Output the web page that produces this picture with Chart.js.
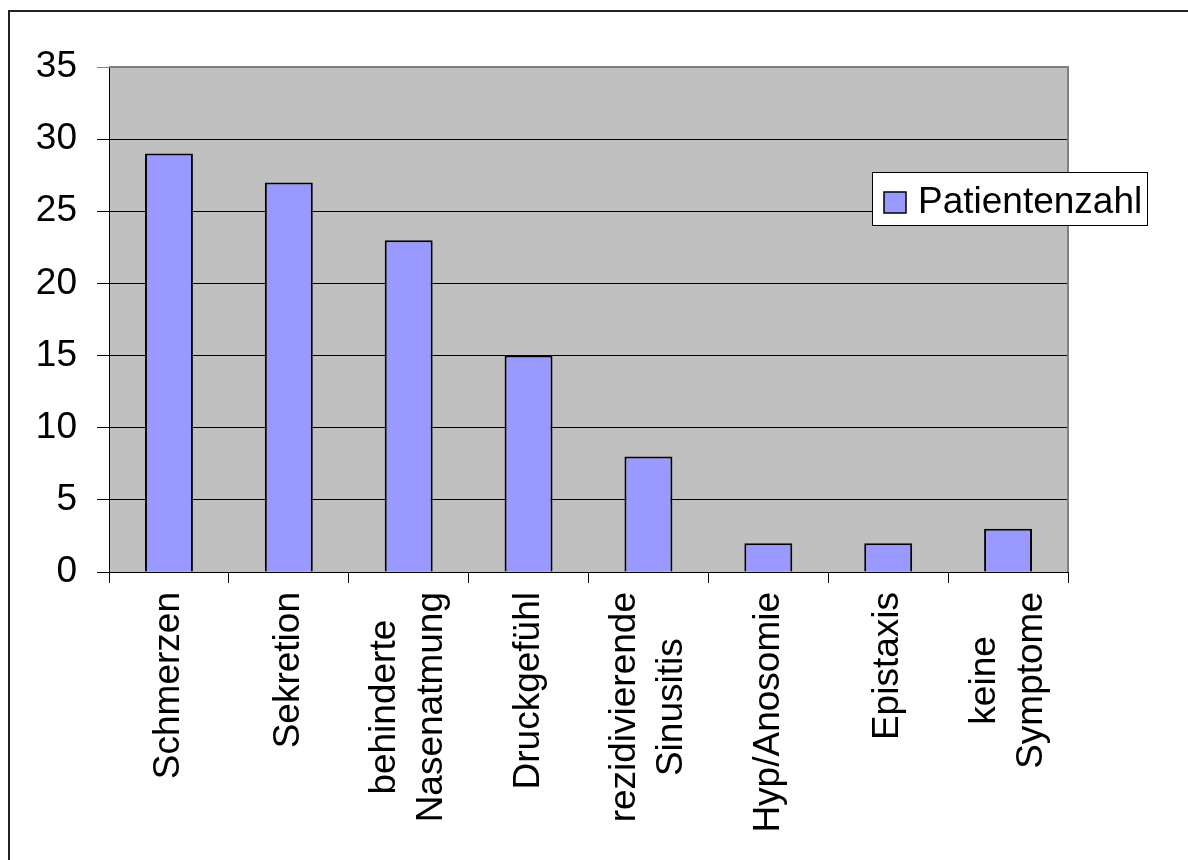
<!DOCTYPE html>
<html>
<head>
<meta charset="utf-8">
<title>Patientenzahl</title>
<script src="https://cdn.jsdelivr.net/npm/chart.js@4/dist/chart.umd.min.js"></script>
<style>
  html, body { margin: 0; padding: 0; background: #fff; }
  #wrap { width: 1188px; height: 860px; position: relative; }
</style>
</head>
<body>
<div id="wrap"><canvas id="symptom-chart" width="1188" height="860"></canvas></div>
<script>
// Symptom categories (multi-line labels) and patient counts
const categories = [
  ['Schmerzen'],
  ['Sekretion'],
  ['behinderte', 'Nasenatmung'],
  ['Druckgefühl'],
  ['rezidivierende', 'Sinusitis'],
  ['Hyp/Anosomie'],
  ['Epistaxis'],
  ['keine', 'Symptome']
];
const patientCounts = [29, 27, 23, 15, 8, 2, 2, 3];
const seriesLabel = 'Patientenzahl';
const yMin = 0;
const yMax = 35;
const yStep = 5;

const FONT = '"Liberation Sans", Arial, sans-serif';
const FONT_SIZE = 37;
const BAR_COLOR = '#9999FF';
const PLOT_BG = '#C0C0C0';

// Background, outer frame and gray plot area
const backgroundPlugin = {
  id: 'backgroundPlugin',
  beforeDraw(chart) {
    const ctx = chart.ctx;
    const area = chart.chartArea;
    ctx.save();
    ctx.fillStyle = '#fff';
    ctx.fillRect(0, 0, chart.width, chart.height);
    ctx.fillStyle = PLOT_BG;
    ctx.fillRect(area.left, area.top, area.right - area.left, area.bottom - area.top);
    // frame only shows its top and left edges
    ctx.strokeStyle = '#222';
    ctx.lineWidth = 2;
    ctx.beginPath();
    ctx.moveTo(9, chart.height);
    ctx.lineTo(9, 11);
    ctx.lineTo(chart.width, 11);
    ctx.stroke();
    ctx.restore();
  },
  afterDraw(chart) {
    const ctx = chart.ctx;
    const area = chart.chartArea;
    ctx.save();
    ctx.strokeStyle = '#808080';
    ctx.lineWidth = 2;
    ctx.beginPath();
    ctx.moveTo(area.left, area.top);
    ctx.lineTo(area.right, area.top);
    ctx.lineTo(area.right, area.bottom);
    ctx.stroke();
    ctx.restore();
  }
};

// Rotated category labels, lines centred on each other and on the category
const categoryLabelPlugin = {
  id: 'categoryLabelPlugin',
  afterDraw(chart) {
    const ctx = chart.ctx;
    const xScale = chart.scales.x;
    const lineHeight = FONT_SIZE * 1.27;
    const top = xScale.top + 20;
    ctx.save();
    ctx.font = FONT_SIZE + 'px ' + FONT;
    ctx.fillStyle = '#000';
    ctx.textAlign = 'center';
    ctx.textBaseline = 'middle';
    categories.forEach((lines, i) => {
      const cx = xScale.getPixelForValue(i);
      const maxW = Math.max(...lines.map(l => ctx.measureText(l).width));
      lines.forEach((line, j) => {
        ctx.save();
        ctx.translate(cx + (j - (lines.length - 1) / 2) * lineHeight, top);
        ctx.rotate(-Math.PI / 2);
        ctx.fillText(line, -maxW / 2, 0);
        ctx.restore();
      });
    });
    ctx.restore();
  }
};

// Boxed legend sitting over the right part of the plot
const legendBoxPlugin = {
  id: 'legendBoxPlugin',
  afterDraw(chart) {
    const ctx = chart.ctx;
    const ds = chart.data.datasets[0];
    ctx.save();
    ctx.fillStyle = '#fff';
    ctx.fillRect(872, 172, 275, 53);
    ctx.strokeStyle = '#000';
    ctx.lineWidth = 1;
    ctx.strokeRect(872.5, 172.5, 275, 53);
    ctx.fillStyle = ds.backgroundColor;
    ctx.fillRect(884, 192, 22, 21);
    ctx.lineWidth = 1.5;
    ctx.strokeRect(884, 192, 22, 21);
    ctx.fillStyle = '#000';
    ctx.font = FONT_SIZE + 'px ' + FONT;
    ctx.textBaseline = 'alphabetic';
    ctx.fillText(ds.label, 918, 213);
    ctx.restore();
  }
};

const ctx = document.getElementById('symptom-chart');
new Chart(ctx, {
  type: 'bar',
  data: {
    labels: categories,
    datasets: [{
      label: seriesLabel,
      data: patientCounts,
      backgroundColor: BAR_COLOR,
      borderColor: '#000',
      borderWidth: 2,
      categoryPercentage: 1,
      barPercentage: 0.4
    }]
  },
  options: {
    responsive: false,
    animation: false,
    devicePixelRatio: 1,
    layout: { padding: { top: 67, right: 120, bottom: 0, left: 0 } },
    plugins: {
      legend: { display: false },
      tooltip: { enabled: false }
    },
    scales: {
      x: {
        offset: true,
        grid: {
          offset: true,
          drawOnChartArea: false,
          drawTicks: true,
          tickLength: 11,
          color: '#000'
        },
        border: { color: '#000', width: 1 },
        ticks: { display: false },
        afterFit(scale) { scale.height = 288; }
      },
      y: {
        min: yMin,
        max: yMax,
        ticks: {
          stepSize: yStep,
          color: '#000',
          padding: 20,
          font: { family: FONT, size: FONT_SIZE }
        },
        grid: {
          color: c => (c.tick && c.tick.value === yMax ? '#808080' : '#000'),
          lineWidth: 1,
          tickLength: 12
        },
        border: { color: '#000', width: 1 },
        afterFit(scale) { scale.width = 109; }
      }
    }
  },
  plugins: [backgroundPlugin, categoryLabelPlugin, legendBoxPlugin]
});
</script>
</body>
</html>
